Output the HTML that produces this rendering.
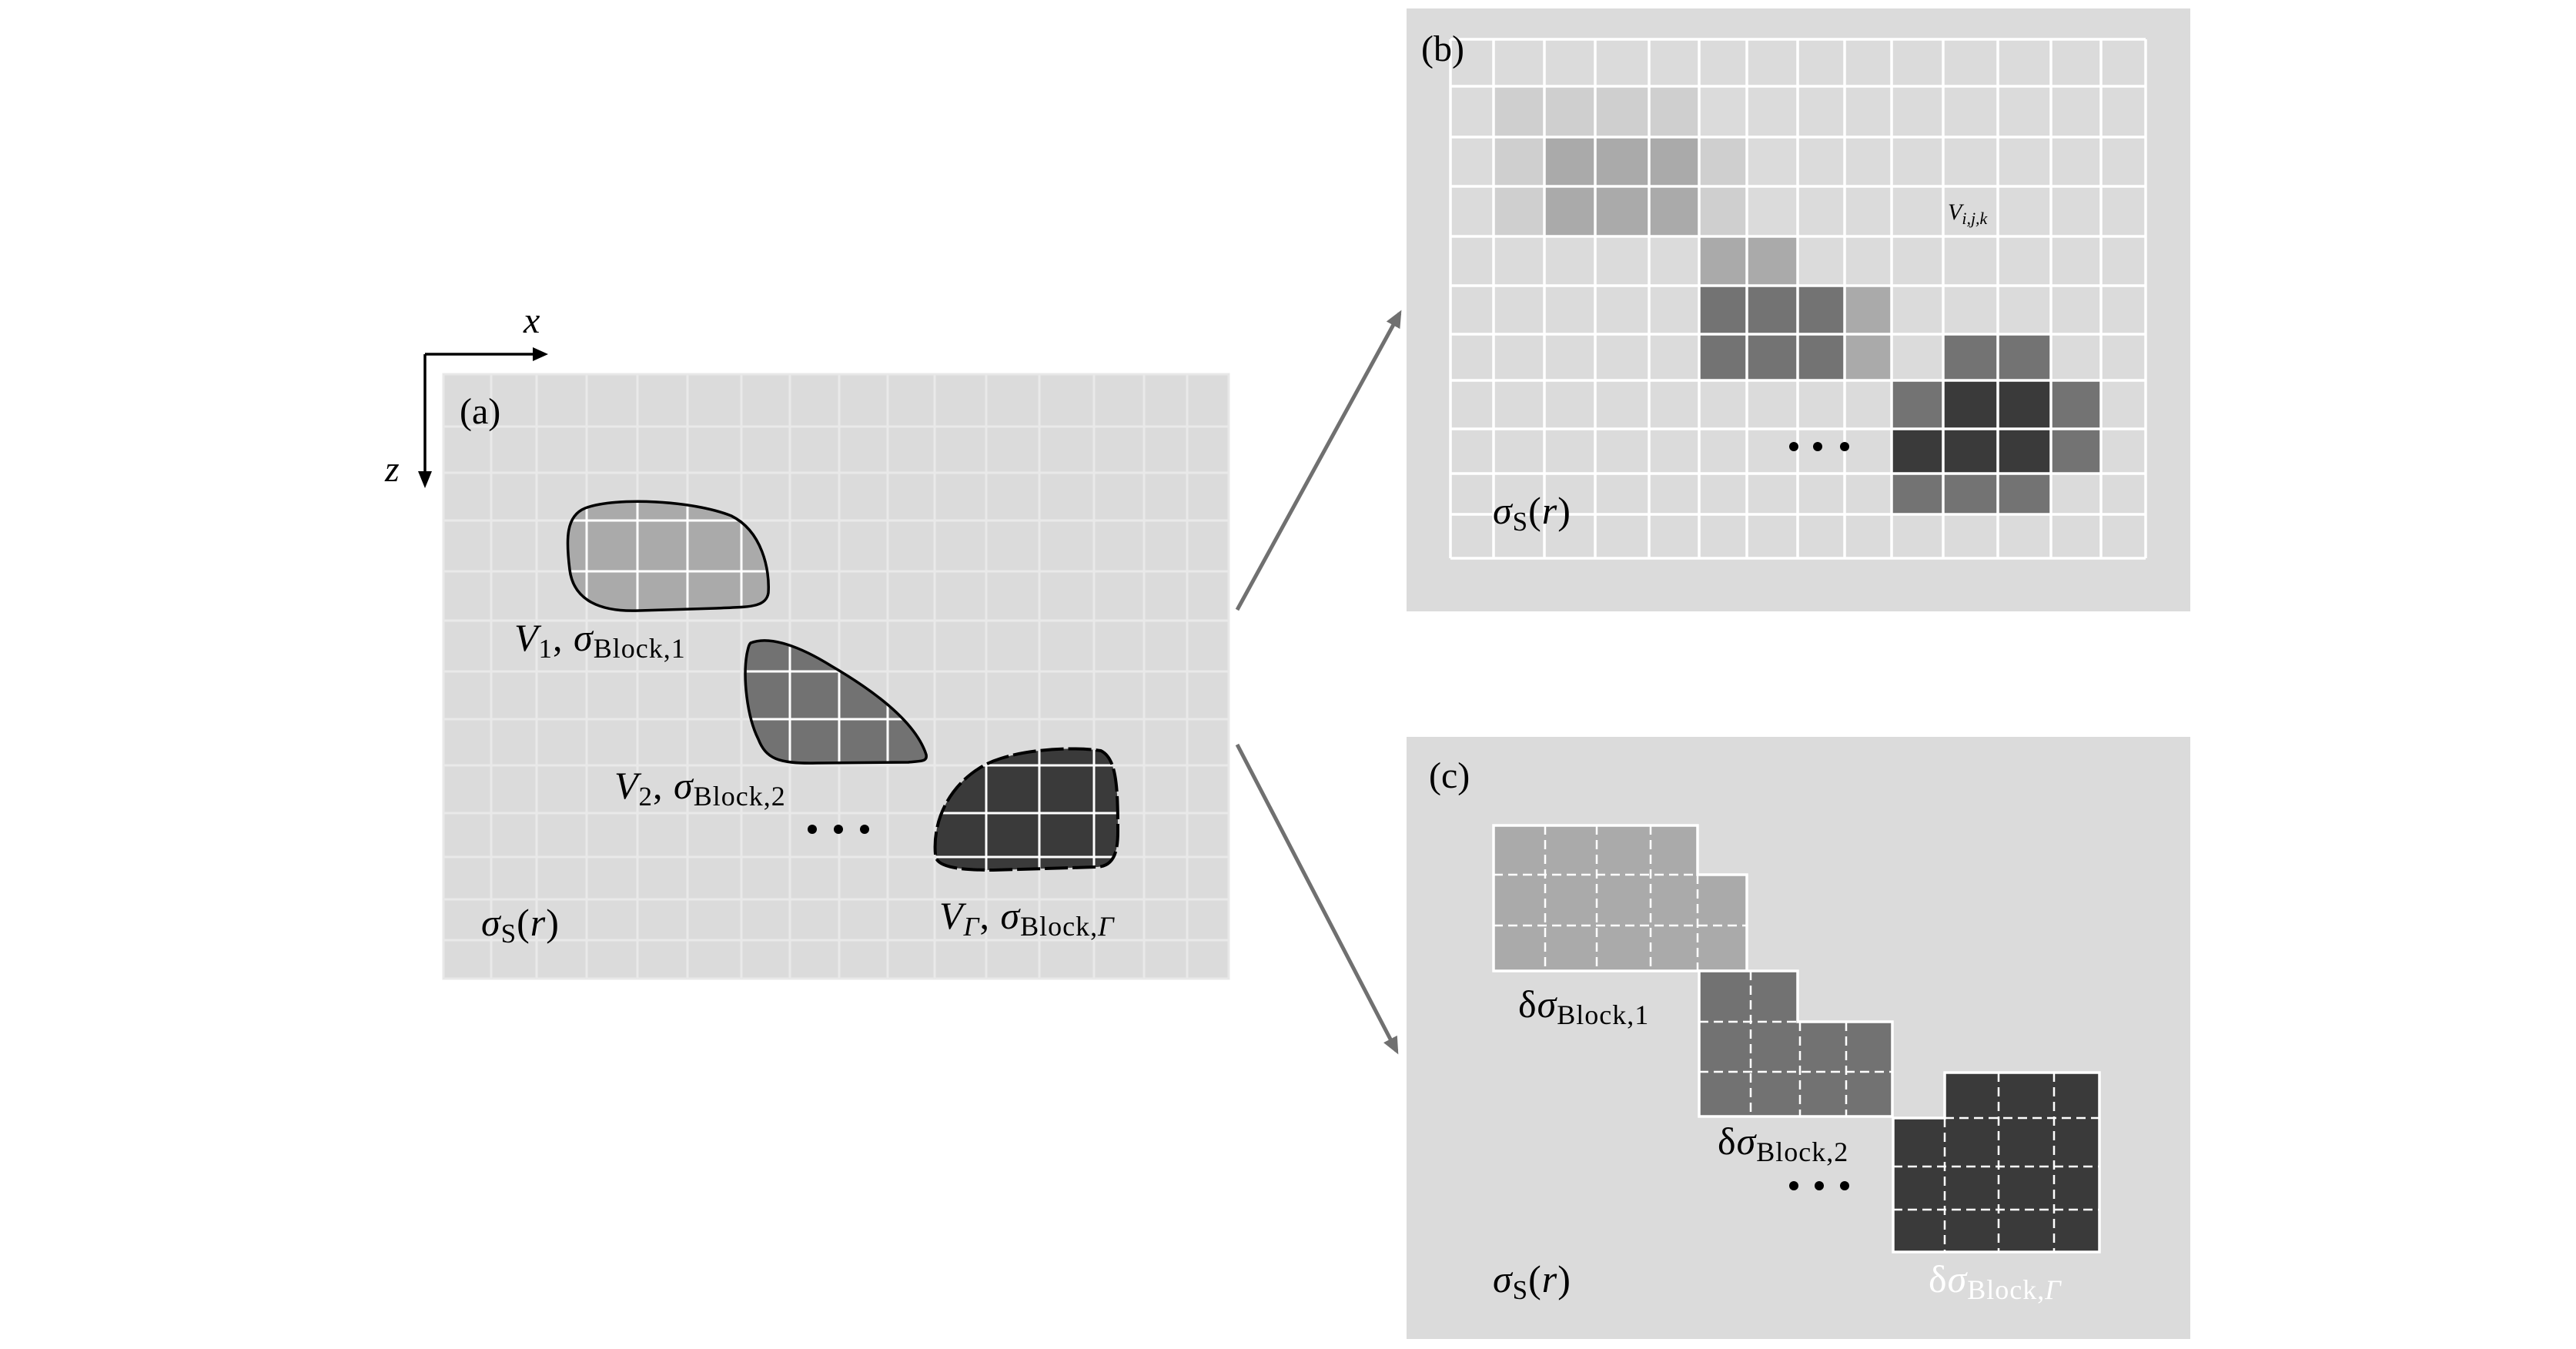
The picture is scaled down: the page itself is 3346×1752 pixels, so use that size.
<!DOCTYPE html>
<html><head><meta charset="utf-8"><style>
html,body{margin:0;padding:0;background:#fff;}
svg{display:block;}
text{font-family:"Liberation Serif",serif;fill:#000;}
.it{font-style:italic;}
.lb{letter-spacing:1px;}
</style></head><body>
<svg width="3346" height="1752" viewBox="0 0 3346 1752" xmlns="http://www.w3.org/2000/svg">
<defs>
<marker id="ah" markerWidth="4.5" markerHeight="4" refX="3.5" refY="2" orient="auto" markerUnits="strokeWidth">
<path d="M0,0 L4.5,2 L0,4 Z" fill="#707070"/></marker>
<clipPath id="b1"><path d="M760,660 C800,645 900,650 950,670 C990,690 1000,740 998,770 C995,790 970,788 930,790 L830,793 C780,795 745,780 740,740 C735,700 735,670 760,660 Z"/></clipPath>
<clipPath id="b2"><path d="M975,835 C1000,825 1040,840 1080,865 C1140,900 1190,940 1203,980 C1205,990 1195,988 1180,990 L1060,991 C1010,992 995,985 985,960 C970,930 965,880 970,850 C972,840 973,837 975,835 Z"/></clipPath>
<clipPath id="b3"><path d="M1215,1110 C1210,1050 1250,1000 1300,985 C1340,972 1400,970 1430,975 C1450,985 1452,1020 1452,1080 C1452,1110 1445,1125 1425,1126 L1290,1130 C1240,1130 1215,1125 1215,1110 Z"/></clipPath>
<g id="ga" stroke-width="3">
<path d="M638,486V1271M697,486V1271M762,486V1271M828,486V1271M893,486V1271M963,486V1271M1026,486V1271M1090,486V1271M1153,486V1271M1214,486V1271M1281,486V1271M1350,486V1271M1421,486V1271M1486,486V1271M1542,486V1271"/>
<path d="M576,554H1596M576,614H1596M576,676H1596M576,742H1596M576,806H1596M576,872H1596M576,934H1596M576,994H1596M576,1056H1596M576,1113H1596M576,1168H1596M576,1221H1596"/>
</g>
</defs>

<!-- Panel (a) -->
<rect x="576" y="486" width="1020" height="785" fill="#dbdbdb" stroke="#e8e8e8" stroke-width="3"/>
<use href="#ga" stroke="#e9e9e9"/>
<path d="M760,660 C800,645 900,650 950,670 C990,690 1000,740 998,770 C995,790 970,788 930,790 L830,793 C780,795 745,780 740,740 C735,700 735,670 760,660 Z" fill="#aaaaaa"/>
<use href="#ga" stroke="#fff" clip-path="url(#b1)"/>
<path d="M760,660 C800,645 900,650 950,670 C990,690 1000,740 998,770 C995,790 970,788 930,790 L830,793 C780,795 745,780 740,740 C735,700 735,670 760,660 Z" fill="none" stroke="#000" stroke-width="3.5"/>
<path d="M975,835 C1000,825 1040,840 1080,865 C1140,900 1190,940 1203,980 C1205,990 1195,988 1180,990 L1060,991 C1010,992 995,985 985,960 C970,930 965,880 970,850 C972,840 973,837 975,835 Z" fill="#727272"/>
<use href="#ga" stroke="#fff" clip-path="url(#b2)"/>
<path d="M975,835 C1000,825 1040,840 1080,865 C1140,900 1190,940 1203,980 C1205,990 1195,988 1180,990 L1060,991 C1010,992 995,985 985,960 C970,930 965,880 970,850 C972,840 973,837 975,835 Z" fill="none" stroke="#000" stroke-width="3.5"/>
<path d="M1215,1110 C1210,1050 1250,1000 1300,985 C1340,972 1400,970 1430,975 C1450,985 1452,1020 1452,1080 C1452,1110 1445,1125 1425,1126 L1290,1130 C1240,1130 1215,1125 1215,1110 Z" fill="#3a3a3a"/>
<use href="#ga" stroke="#fff" clip-path="url(#b3)"/>
<path d="M1215,1110 C1210,1050 1250,1000 1300,985 C1340,972 1400,970 1430,975 C1450,985 1452,1020 1452,1080 C1452,1110 1445,1125 1425,1126 L1290,1130 C1240,1130 1215,1125 1215,1110 Z" fill="none" stroke="#000" stroke-width="4" stroke-dasharray="30,6"/>

<text x="597" y="550" font-size="48">(a)</text>
<text x="668" y="845" font-size="50" class="lb"><tspan class="it">V</tspan><tspan font-size="35" dy="9">1</tspan><tspan dy="-9">,  </tspan><tspan class="it">σ</tspan><tspan font-size="36" dy="9">Block,1</tspan></text>
<text x="798" y="1037" font-size="50" class="lb"><tspan class="it">V</tspan><tspan font-size="35" dy="9">2</tspan><tspan dy="-9">,  </tspan><tspan class="it">σ</tspan><tspan font-size="36" dy="9">Block,2</tspan></text>
<text x="1220" y="1206" font-size="50" class="lb"><tspan class="it">V</tspan><tspan font-size="35" dy="9" class="it">Γ</tspan><tspan dy="-9">,  </tspan><tspan class="it">σ</tspan><tspan font-size="36" dy="9">Block,</tspan><tspan font-size="36" class="it">Γ</tspan></text>
<text x="625" y="1215" font-size="50" class="lb"><tspan class="it">σ</tspan><tspan font-size="35" dy="9">S</tspan><tspan dy="-9">(</tspan><tspan class="it">r</tspan>)</text>
<g fill="#000"><circle cx="1055" cy="1077" r="6"/><circle cx="1089" cy="1077" r="6"/><circle cx="1123" cy="1077" r="6"/></g>

<!-- axes -->
<path d="M552,460 H700 M552,460 V620" stroke="#000" stroke-width="3.5" fill="none"/>
<path d="M712,460 L692,451 L692,469 Z" fill="#000"/>
<path d="M552,634 L543,612 L561,612 Z" fill="#000"/>
<text x="680" y="432" font-size="48" class="it">x</text>
<text x="500" y="625" font-size="48" class="it">z</text>

<!-- arrows -->
<line x1="1607" y1="792" x2="1818" y2="407" stroke="#707070" stroke-width="5" marker-end="url(#ah)"/>
<line x1="1607" y1="967" x2="1814" y2="1365" stroke="#707070" stroke-width="5" marker-end="url(#ah)"/>

<!-- Panel (b) -->
<rect x="1827" y="11" width="1018" height="783" fill="#dbdbdb"/>
<g>
<g fill="#cfcfcf">
<rect x="1940" y="112" width="267" height="66"/>
<rect x="1940" y="178" width="66" height="129"/>
<rect x="2207" y="178" width="62" height="129"/>
</g>
<g fill="#aaaaaa">
<rect x="2006" y="178" width="201" height="129"/>
<rect x="2207" y="307" width="128" height="64"/>
<rect x="2396" y="371" width="61" height="123"/>
</g>
<g fill="#737373">
<rect x="2207" y="371" width="189" height="123"/>
<rect x="2524" y="434" width="140" height="60"/>
<rect x="2457" y="494" width="67" height="63"/>
<rect x="2664" y="494" width="65" height="121"/>
<rect x="2457" y="615" width="207" height="53"/>
</g>
<g fill="#3a3a3a">
<rect x="2524" y="494" width="140" height="63"/>
<rect x="2457" y="557" width="207" height="58"/>
</g>
<g stroke="#fff" stroke-width="3.5">
<path d="M1884,51V725M1940,51V725M2006,51V725M2072,51V725M2142,51V725M2207,51V725M2269,51V725M2335,51V725M2396,51V725M2457,51V725M2524,51V725M2595,51V725M2664,51V725M2729,51V725M2787,51V725"/>
<path d="M1884,51H2787M1884,112H2787M1884,178H2787M1884,242H2787M1884,307H2787M1884,371H2787M1884,434H2787M1884,494H2787M1884,557H2787M1884,615H2787M1884,668H2787M1884,725H2787"/>
</g>
</g>
<text x="1846" y="79" font-size="48">(b)</text>
<text x="2530" y="285" font-size="30"><tspan class="it">V</tspan><tspan font-size="22" dy="6" class="it">i,j,k</tspan></text>
<text x="1939" y="680" font-size="50" class="lb"><tspan class="it">σ</tspan><tspan font-size="35" dy="9">S</tspan><tspan dy="-9">(</tspan><tspan class="it">r</tspan>)</text>
<g fill="#000"><circle cx="2330" cy="580" r="6"/><circle cx="2361" cy="580" r="6"/><circle cx="2396" cy="580" r="6"/></g>

<!-- Panel (c) -->
<rect x="1827" y="957" width="1018" height="782" fill="#dbdbdb"/>
<path d="M1940,1072 H2205 V1136 H2269 V1261 H1940 Z" fill="#aaaaaa" stroke="#fff" stroke-width="3.5"/>
<g stroke="#fff" stroke-width="2.5" stroke-dasharray="12,7" fill="none">
<path d="M2007,1072V1261M2074,1072V1261M2144,1072V1261M2205,1136V1261M1940,1136H2205M1940,1202H2269"/>
</g>
<path d="M2207,1261 H2335 V1327 H2458 V1450 H2207 Z" fill="#727272" stroke="#fff" stroke-width="3.5"/>
<g stroke="#fff" stroke-width="2.5" stroke-dasharray="12,7" fill="none">
<path d="M2274,1261V1450M2338,1327V1450M2398,1327V1450M2207,1327H2335M2207,1392H2458"/>
</g>
<path d="M2526,1393 H2727 V1626 H2459 V1452 H2526 Z" fill="#3a3a3a" stroke="#fff" stroke-width="3.5"/>
<g stroke="#fff" stroke-width="2.5" stroke-dasharray="12,7" fill="none">
<path d="M2526,1452V1626M2596,1393V1626M2668,1393V1626M2526,1452H2727M2459,1515H2727M2459,1571H2727"/>
</g>
<text x="1856" y="1023" font-size="48">(c)</text>
<text x="1972" y="1321" font-size="50" class="lb"><tspan>δ</tspan><tspan class="it">σ</tspan><tspan font-size="36" dy="9">Block,1</tspan></text>
<text x="2231" y="1499" font-size="50" class="lb"><tspan>δ</tspan><tspan class="it">σ</tspan><tspan font-size="36" dy="9">Block,2</tspan></text>
<text x="2505" y="1678" font-size="50" class="lb" style="fill:#fff"><tspan style="fill:#fff">δ</tspan><tspan class="it" style="fill:#fff">σ</tspan><tspan font-size="36" dy="9" style="fill:#fff">Block,</tspan><tspan font-size="36" class="it" style="fill:#fff">Γ</tspan></text>
<text x="1939" y="1678" font-size="50" class="lb"><tspan class="it">σ</tspan><tspan font-size="35" dy="9">S</tspan><tspan dy="-9">(</tspan><tspan class="it">r</tspan>)</text>
<g fill="#000"><circle cx="2330" cy="1540" r="6"/><circle cx="2363" cy="1540" r="6"/><circle cx="2396" cy="1540" r="6"/></g>
</svg>
</body></html>
